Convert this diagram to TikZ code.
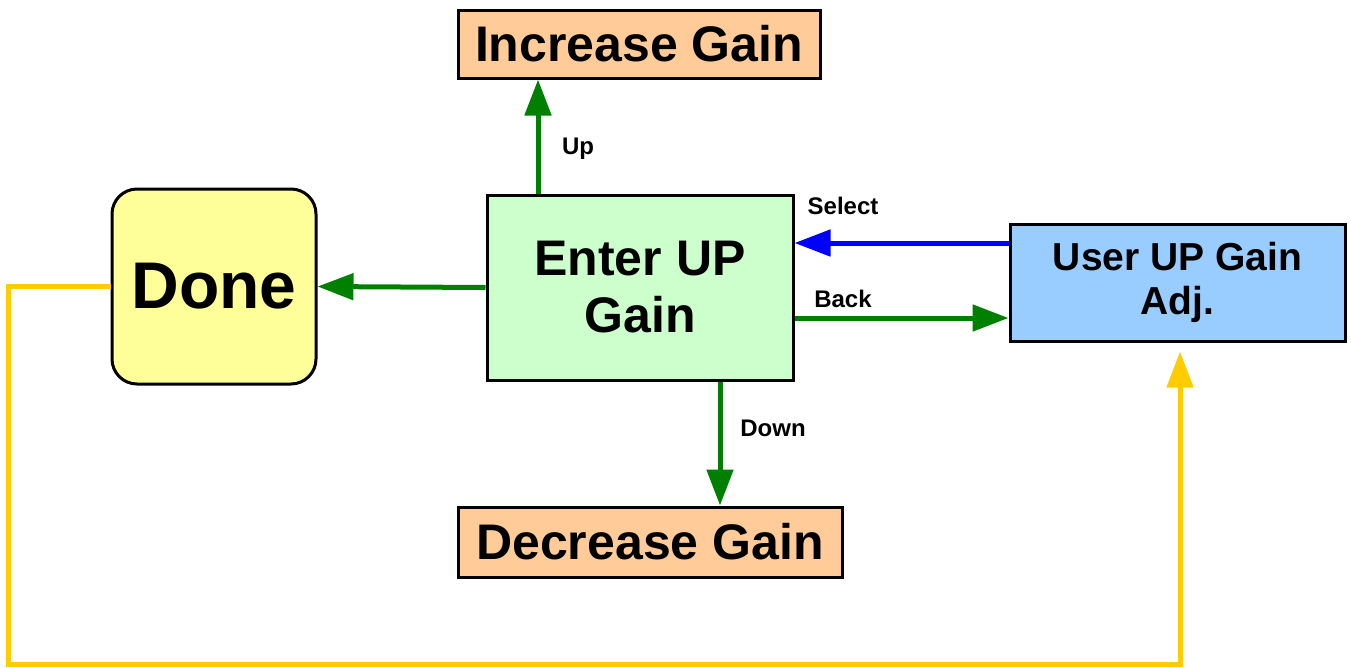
\documentclass[tikz,border=0pt]{standalone}
\usepackage{fontspec}
\setmainfont{Liberation Sans}
\usetikzlibrary{arrows.meta}
\definecolor{gr}{HTML}{008000}
\definecolor{bl}{HTML}{0000FF}
\definecolor{yl}{HTML}{FFCC00}
\definecolor{peach}{HTML}{FFCC99}
\definecolor{lgreen}{HTML}{CCFFCC}
\definecolor{lyellow}{HTML}{FFFF99}
\definecolor{lblue}{HTML}{99CCFF}
\tikzset{
  box/.style={draw=black, line width=3pt, inner sep=0pt, align=center, font=\bfseries\fontsize{50}{57}\selectfont},
  conn/.style={line width=5pt, -{Triangle[length=36pt,width=26pt]}},
  lbl/.style={font=\bfseries\fontsize{24}{28}\selectfont, inner sep=0pt}
}
\begin{document}
\begin{tikzpicture}[x=1pt,y=-1pt]
\useasboundingbox (0,0) rectangle (1351,667);
\node[box, fill=peach, minimum width=362pt, minimum height=68pt] (inc) at (639,44) {Increase Gain};
\node[box, fill=lgreen, minimum width=306pt, minimum height=185pt] (enter) at (640,287.5) {Enter UP\\Gain};
\node[box, fill=lyellow, rounded corners=25pt, minimum width=204pt, minimum height=195pt, font=\bfseries\fontsize{66}{70}\selectfont] (done) at (214,286.5) {Done};
\node[box, fill=lblue, minimum width=335pt, minimum height=117pt, font=\bfseries\fontsize{39}{44}\selectfont] (user) at (1177.5,282.5) {User UP Gain\\Adj.};
\node[box, fill=peach, minimum width=384pt, minimum height=70pt] (dec) at (650,542) {Decrease Gain};

\draw[conn, gr] ([xshift=-102pt]enter.north) -- ([xshift=-101pt]inc.south);
\draw[conn, gr] (enter.west) -- (done.east);
\coordinate (selS) at ([yshift=39.5pt]user.west);
\draw[conn, bl] (selS) -- (enter.east |- selS);
\coordinate (backS) at ([yshift=-30.5pt]enter.east);
\draw[conn, gr] (backS) -- (user.west |- backS);
\draw[conn, gr] ([xshift=80pt]enter.south) -- ([xshift=70pt]dec.north);
\coordinate (ycorner) at ([xshift=2.5pt,yshift=-322pt]user.south);
\draw[conn, yl, shorten >=9pt] (done.west) -- ++(-102,0) |- (ycorner) -- ([xshift=2.5pt]user.south);

\node[lbl] (lup) at (578,149) {Up};
\node[lbl] (lsel) at (843,206) {Select};
\node[lbl] (lback) at (843,299) {Back};
\node[lbl] (ldown) at (773,428) {Down};
\end{tikzpicture}
\end{document}
